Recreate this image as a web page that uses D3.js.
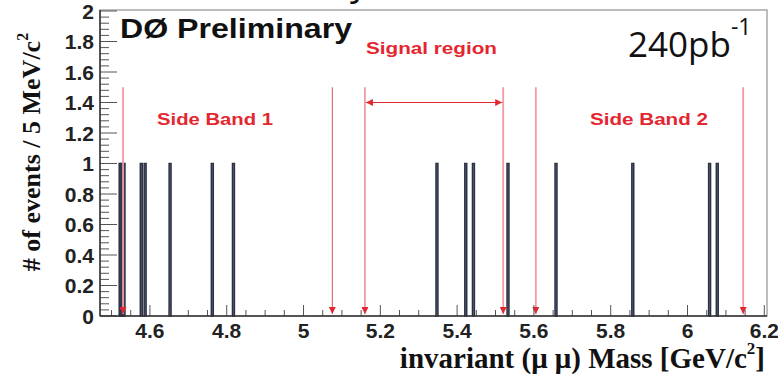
<!DOCTYPE html>
<html>
<head>
<meta charset="utf-8">
<script src="https://cdn.jsdelivr.net/npm/d3@7"></script>
<style>
  html, body { margin: 0; padding: 0; background: #fff; }
  svg { display: block; }
</style>
</head>
<body>
<svg id="chart" width="778" height="376"></svg>
<script>
// lower edges of the 5 MeV bins that hold one event each
const eventBins = [4.520, 4.525, 4.530, 4.575, 4.585, 4.650, 4.760, 4.815,
                   5.345, 5.420, 5.440, 5.530, 5.655, 5.855, 6.055, 6.075];
const binWidth = 0.005;
// mass window cuts (GeV/c^2)
const cutLines = [4.53, 5.075, 5.16, 5.52, 5.605, 6.145];
const signalRegion = [5.16, 5.52];
const regionLabels = ["Side Band 1", "Signal region", "Side Band 2"];
const xTicks = [4.6, 4.8, 5, 5.2, 5.4, 5.6, 5.8, 6, 6.2];
const yTicks = [0, 0.2, 0.4, 0.6, 0.8, 1, 1.2, 1.4, 1.6, 1.8, 2];

const red = "#e4262f";
const pink = "#f19aa2";
const barFill = "#66738f";
const barStroke = "#2b3142";

function draw() {
    const svg = d3.select("#chart");
    const left = 100, right = 767, top = 11, bottom = 316;

    const x = d3.scaleLinear().domain([4.47, 6.207]).range([left, right]);
    const y = d3.scaleLinear().domain([0, 2]).range([bottom, top]);

    // arrow heads
    const defs = svg.append("defs");
    defs.append("marker")
        .attr("id", "head")
        .attr("viewBox", [0, 0, 10, 10])
        .attr("refX", 10).attr("refY", 5)
        .attr("markerWidth", 7).attr("markerHeight", 7)
        .attr("markerUnits", "userSpaceOnUse")
        .attr("orient", "auto-start-reverse")
        .append("path")
        .attr("d", d3.line()([[0, 0], [10, 5], [0, 10]]))
        .attr("fill", red);

    // cut-off title fragments at the very top (only their lower ends show)
    const frag = svg.append("g")
        .attr("font-family", "'Open Sans', sans-serif")
        .attr("font-size", 36)
        .attr("fill", "#111");
    frag.append("text").attr("x", 350).attr("y", -5).text("y");
    frag.append("text").attr("x", 448).attr("y", -6).text("(");
    frag.append("text").attr("x", 497).attr("y", -2).attr("font-size", 26).text("s");
    frag.append("text").attr("x", 520).attr("y", -6).text(")");

    // frame
    svg.append("rect")
        .attr("x", left).attr("y", top - 1)
        .attr("width", right - left).attr("height", bottom - top + 1)
        .attr("fill", "#fff")
        .attr("stroke", "#9a9a9a")
        .attr("stroke-width", 1.3);

    // histogram bars
    svg.append("g")
        .selectAll("rect")
        .data(eventBins)
        .join("rect")
        .attr("x", d => x(d))
        .attr("y", y(1))
        .attr("width", d => x(d + binWidth) - x(d))
        .attr("height", y(0) - y(1))
        .attr("fill", barFill)
        .attr("stroke", barStroke)
        .attr("stroke-width", 1.5);

    // vertical cut lines with arrows pointing down
    svg.append("g")
        .selectAll("line")
        .data(cutLines)
        .join("line")
        .attr("x1", d => x(d)).attr("x2", d => x(d))
        .attr("y1", y(1.5)).attr("y2", y(0) - 2)
        .attr("stroke", (d, i) => (i === 1 || i === 2) ? "#d9505a" : pink)
        .attr("stroke-width", (d, i) => (i === 1 || i === 2) ? 1 : 1.8)
        .attr("marker-end", "url(#head)");

    // signal region double arrow
    svg.append("line")
        .attr("x1", x(signalRegion[0]) + 1).attr("x2", x(signalRegion[1]) - 1)
        .attr("y1", y(1.4)).attr("y2", y(1.4))
        .attr("stroke", red)
        .attr("stroke-width", 1)
        .attr("marker-start", "url(#head)")
        .attr("marker-end", "url(#head)");

    // region labels
    const lab = svg.append("g")
        .attr("font-family", "'Liberation Sans', Arial, sans-serif")
        .attr("font-weight", "bold")
        .attr("font-size", 17)
        .attr("fill", red);
    lab.append("text").attr("x", 157).attr("y", 125)
        .attr("textLength", 116).attr("lengthAdjust", "spacingAndGlyphs")
        .text(regionLabels[0]);
    lab.append("text").attr("x", 366).attr("y", 54)
        .attr("textLength", 131).attr("lengthAdjust", "spacingAndGlyphs")
        .text(regionLabels[1]);
    lab.append("text").attr("x", 590).attr("y", 125)
        .attr("textLength", 118).attr("lengthAdjust", "spacingAndGlyphs")
        .text(regionLabels[2]);

    // DØ Preliminary
    svg.append("text")
        .attr("x", 120).attr("y", 38)
        .attr("font-family", "'Liberation Sans', Arial, sans-serif")
        .attr("font-weight", "bold")
        .attr("font-size", 27)
        .attr("fill", "#111")
        .attr("textLength", 232).attr("lengthAdjust", "spacingAndGlyphs")
        .text("DØ Preliminary");

    // luminosity
    const lumi = svg.append("text")
        .attr("x", 628).attr("y", 57)
        .attr("font-family", "'Open Sans', sans-serif")
        .attr("font-size", 35)
        .attr("fill", "#111");
    lumi.append("tspan").text("240pb");
    lumi.append("tspan").attr("dy", -22).attr("font-size", 23).text("-1");

    // y axis ticks (major + minor)
    const yMinor = d3.range(0, 2.0001, 0.04);
    svg.append("g")
        .selectAll("line")
        .data(yMinor)
        .join("line")
        .attr("x1", left).attr("x2", (d, i) => left + (i % 5 === 0 ? 17 : 9))
        .attr("y1", d => y(d)).attr("y2", d => y(d))
        .attr("stroke", "#555").attr("stroke-width", 1);

    // x axis ticks (major + minor)
    const xMinor = d3.range(4.5, 6.2001, 0.05);
    svg.append("g")
        .selectAll("line")
        .data(xMinor)
        .join("line")
        .attr("x1", d => x(d)).attr("x2", d => x(d))
        .attr("y1", bottom)
        .attr("y2", d => bottom - (Math.abs(d * 5 - Math.round(d * 5)) < 1e-6 ? 11 : 6))
        .attr("stroke", "#555").attr("stroke-width", 1);

    // axis lines
    svg.append("line").attr("x1", left).attr("x2", left).attr("y1", top - 1).attr("y2", bottom)
        .attr("stroke", "#333").attr("stroke-width", 1.5);
    svg.append("line").attr("x1", left).attr("x2", right).attr("y1", bottom).attr("y2", bottom)
        .attr("stroke", "#333").attr("stroke-width", 1.5);

    // tick labels
    const tickFont = "'Liberation Sans', Arial, sans-serif";
    svg.append("g")
        .selectAll("text")
        .data(yTicks)
        .join("text")
        .attr("x", 94).attr("y", d => y(d))
        .attr("dy", "0.36em")
        .attr("text-anchor", "end")
        .attr("font-family", tickFont).attr("font-weight", "bold")
        .attr("font-size", 21).attr("fill", "#222")
        .text(d => d3.format("~g")(d));

    svg.append("g")
        .selectAll("text")
        .data(xTicks)
        .join("text")
        .attr("x", d => x(d)).attr("y", 338)
        .attr("text-anchor", "middle")
        .attr("font-family", tickFont).attr("font-weight", "bold")
        .attr("font-size", 21).attr("fill", "#222")
        .text(d => d3.format("~g")(d));

    // axis titles
    const xt = svg.append("text")
        .attr("x", 765).attr("y", 368)
        .attr("text-anchor", "end")
        .attr("font-family", "'Liberation Serif', 'Times New Roman', serif")
        .attr("font-weight", "bold")
        .attr("font-size", 29)
        .attr("fill", "#111");
    xt.append("tspan").text("invariant (μ μ) Mass [GeV/c");
    xt.append("tspan").attr("dy", -14).attr("font-size", 17).text("2");
    xt.append("tspan").attr("dy", 14).text("]");

    const yt = svg.append("text")
        .attr("transform", "translate(40,152) rotate(-90)")
        .attr("text-anchor", "middle")
        .attr("font-family", "'Liberation Serif', 'Times New Roman', serif")
        .attr("font-weight", "bold")
        .attr("font-size", 26)
        .attr("fill", "#111");
    yt.append("tspan").text("# of events / 5 MeV/c");
    yt.append("tspan").attr("dy", -12).attr("font-size", 16).text("2");
}

draw();
</script>
</body>
</html>
